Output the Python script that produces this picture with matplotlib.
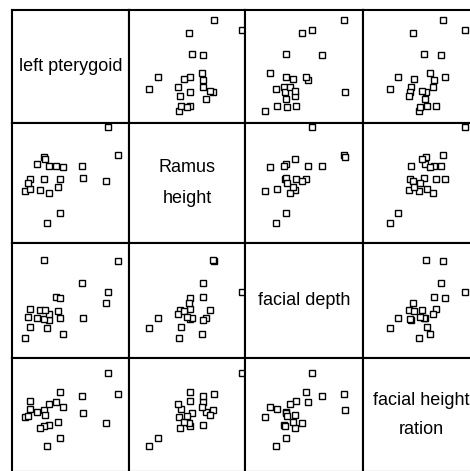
import matplotlib
matplotlib.use("Agg")
import matplotlib.pyplot as plt

# Diagonal labels (one entry per text line)
var_labels = [["left pterygoid"], ["Ramus", "height"], ["facial depth"], ["facial height", "ration"]]

# Values (relative units within each variable's range)
left_pterygoid = [0.82, 0.91, 0.21, 0.27, 0.32, 0.38, 0.44, 0.60, 0.15, 0.27, 0.41,
                  0.61, 0.80, 0.11, 0.15, 0.24, 0.32, 0.41, 0.30, 0.28, 0.39, 0.14]
ramus_height = [0.97, 0.73, 0.66, 0.72, 0.64, 0.64, 0.63, 0.64, 0.53, 0.53, 0.53,
                0.54, 0.52, 0.43, 0.45, 0.44, 0.42, 0.25, 0.17, 0.70, 0.47, 0.50]
facial_depth = [0.57, 0.84, 0.35, 0.85, 0.33, 0.53, 0.21, 0.65, 0.43, 0.34, 0.52,
                0.35, 0.48, 0.17, 0.27, 0.42, 0.38, 0.35, 0.26, 0.42, 0.41, 0.36]
facial_height_ratio = [0.87, 0.68, 0.53, 0.54, 0.41, 0.61, 0.57, 0.67, 0.62, 0.40, 0.70,
                       0.52, 0.43, 0.48, 0.55, 0.39, 0.60, 0.30, 0.23, 0.50, 0.44, 0.49]

data = [left_pterygoid, ramus_height, facial_depth, facial_height_ratio]

plt.rcParams['font.family'] = ['Liberation Sans', 'DejaVu Sans']

W, H = 470, 471
fig = plt.figure(figsize=(W / 100, H / 100), dpi=100)
fig.patch.set_facecolor('white')

col_edges = [12, 129, 245, 363, 480]
row_edges = [10, 123, 243, 358, 472]

for i in range(4):
    for j in range(4):
        x0, x1 = col_edges[j], col_edges[j + 1]
        y0, y1 = row_edges[i], row_edges[i + 1]
        ax = fig.add_axes([x0 / W, 1 - y1 / H, (x1 - x0) / W, (y1 - y0) / H])
        ax.set_xlim(0, 1)
        ax.set_ylim(0, 1)
        ax.set_xticks([])
        ax.set_yticks([])
        for s in ax.spines.values():
            s.set_linewidth(1.5)
            s.set_color('black')
        if i == j:
            lines = var_labels[i]
            if len(lines) == 1:
                ax.text(0.5, 0.5, lines[0], ha='center', va='center', fontsize=13,
                        transform=ax.transAxes)
            else:
                ax.text(0.5, 0.63, lines[0], ha='center', va='center', fontsize=13,
                        transform=ax.transAxes)
                ax.text(0.5, 0.37, lines[1], ha='center', va='center', fontsize=13,
                        transform=ax.transAxes)
        else:
            ax.plot(data[j], data[i], ls='none', marker='s', ms=4.3,
                    mfc='white', mec='black', mew=1.0)

fig.savefig('out.png', dpi=100, facecolor='white')
